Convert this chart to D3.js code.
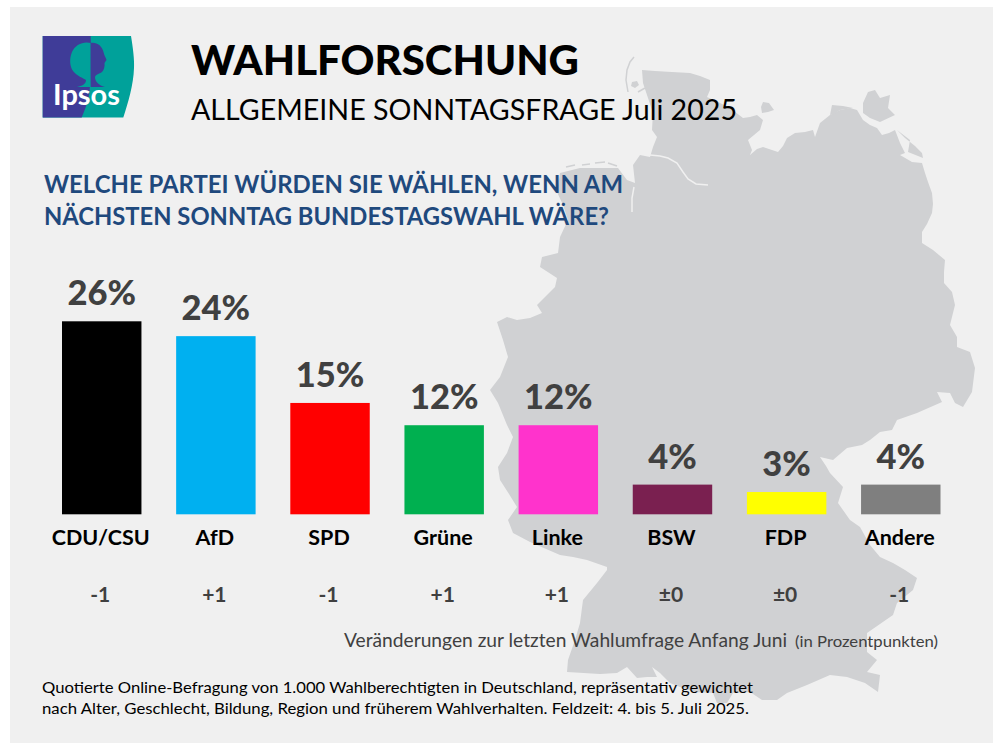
<!DOCTYPE html>
<html>
<head>
<meta charset="utf-8">
<script src="https://cdn.jsdelivr.net/npm/d3@7"></script>
<style>
html, body { margin: 0; padding: 0; background: #fff; }
svg { display: block; }
text { font-family: Lato, "Open Sans", sans-serif; }
</style>
</head>
<body>
<div id="contents"></div>
<script>
var parties = ["CDU/CSU", "AfD", "SPD", "Grüne", "Linke", "BSW", "FDP", "Andere"];
var shares = [26, 24, 15, 12, 12, 4, 3, 4];
var changes = ["-1", "+1", "-1", "+1", "+1", "±0", "±0", "-1"];
var partyColors = ["#000000", "#00b0f0", "#ff0000", "#00b050", "#ff33cc", "#7a2050", "#ffff00", "#7f7f7f"];

// background map of Germany, traced by hand in page pixels
var mapOutline = [[642,70],[655,71],[672,72],[690,73],[700,76],[710,80],[710,90],[707,97],[718,102],[730,108],[743,118],[750,117],[757,115],[763,120],[760,130],[748,140],[752,150],[750,155],[757,149],[763,147],[772,150],[778,152],[783,146],[787,138],[795,133],[805,132],[813,130],[815,137],[820,123],[830,115],[840,110],[850,108],[857,110],[863,120],[870,125],[877,128],[882,135],[889,133],[895,130],[900,143],[905,153],[900,155],[912,162],[922,163],[925,173],[928,182],[932,193],[933,204],[932,213],[927,224],[922,232],[922,243],[933,250],[945,260],[944,272],[944,283],[952,292],[955,305],[950,325],[957,337],[957,347],[970,352],[975,368],[972,392],[963,407],[955,403],[950,393],[937,392],[942,402],[917,413],[897,420],[892,430],[880,432],[870,440],[862,445],[847,448],[833,460],[820,457],[826,466],[830,473],[843,487],[838,503],[850,520],[860,527],[870,545],[880,557],[893,563],[905,570],[917,578],[913,590],[897,603],[893,615],[880,624],[867,633],[867,652],[877,660],[867,672],[880,675],[878,692],[865,683],[847,677],[830,675],[807,685],[787,693],[777,700],[762,700],[750,692],[733,693],[727,703],[717,703],[713,693],[695,692],[680,687],[670,683],[660,673],[652,667],[657,677],[647,677],[637,678],[627,667],[617,673],[600,674],[567,672],[568,660],[575,640],[580,623],[583,600],[597,583],[607,570],[607,567],[587,560],[573,557],[560,555],[530,542],[513,533],[508,520],[517,507],[509,494],[500,480],[498,467],[507,453],[513,437],[507,425],[498,403],[490,390],[500,377],[508,357],[503,340],[497,322],[507,317],[517,320],[530,318],[542,313],[537,305],[555,287],[557,278],[540,267],[542,257],[558,253],[560,237],[568,220],[563,205],[557,192],[560,173],[580,168],[600,168],[618,168],[627,180],[635,183],[633,165],[640,155],[650,157],[653,147],[657,137],[652,130],[653,113],[648,98],[643,83]];
var mapIslands = [
  [[763,102],[769,103],[774,110],[768,112],[762,113],[761,107]],
  [[863,103],[868,92],[875,90],[880,98],[890,95],[888,108],[895,115],[880,122],[870,118],[863,113]],
  [[897,130],[905,138],[915,146],[922,153],[923,158],[908,152],[910,140]],
  [[632,82],[637,81],[639,85],[635,88],[631,86]],
  [[832,105],[843,106],[853,108],[840,110],[834,114],[830,115]]
];
var mapSandbars = [
  [[634,57],[630,62],[627,70],[626,80],[628,92]],
  [[638,92],[645,88]],
  [[566,167],[575,165]],[[582,165],[590,164]],[[595,163],[605,162]],[[608,163],[617,166]]
];
var mapRivers = [
  [[650,155],[660,156],[668,158],[677,163],[683,172],[688,179],[696,184],[708,185]],
  [[634,187],[632,198],[632,212]]
];

var width = 1000, height = 750;

var canvas = d3.select("#contents")
  .append("svg")
  .attr("width", width)
  .attr("height", height);

canvas.append("rect")
  .attr("x", 10).attr("y", 7)
  .attr("width", 983).attr("height", 736)
  .attr("fill", "#f0f0f0");

// map
var mapLine = d3.line();
var map = canvas.append("g");
map.append("path")
  .attr("d", mapLine(mapOutline) + "Z")
  .attr("fill", "#d0d1d3");
map.selectAll(".island")
  .data(mapIslands)
  .enter()
  .append("path")
  .attr("class", "island")
  .attr("d", function(d){ return mapLine(d) + "Z"; })
  .attr("fill", "#d0d1d3");
map.selectAll(".sandbar")
  .data(mapSandbars)
  .enter()
  .append("path")
  .attr("class", "sandbar")
  .attr("d", mapLine)
  .attr("fill", "none")
  .attr("stroke", "#d0d1d3")
  .attr("stroke-width", 1.5);
map.selectAll(".river")
  .data(mapRivers)
  .enter()
  .append("path")
  .attr("class", "river")
  .attr("d", mapLine)
  .attr("fill", "none")
  .attr("stroke", "#f0f0f0")
  .attr("stroke-width", 1.5);

// logo
var logo = canvas.append("g");
logo.append("path")
  .attr("d", "M42.7,36H131C133,48 134.5,60 134,68C133.5,85 128,103 123.3,117.5H42.7Z")
  .attr("fill", "#00a19a");
logo.append("path")
  .attr("d", "M42.7,36H90.7C91,60 91,85 89,95C87,105 84,112 81.7,117.5H42.7Z")
  .attr("fill", "#3f3c98");
logo.append("path")
  .attr("d", "M90.7,43C83,41 75,45 72,52C69,59 70,67 73,71C77,76 83,78 86,80C86,84 82,86 77,87H90.7Z")
  .attr("fill", "#00a19a");
logo.append("path")
  .attr("d", "M90.7,43C97,42 102,46 103.5,52C104,55 106,58 106.5,60C106,61 105,62 104.5,63C105,66 104,70 102,72C99,74 96,74 95,77C95,81 98,85 105,87H90.7Z")
  .attr("fill", "#3f3c98");
logo.append("text")
  .attr("x", 53).attr("y", 105)
  .attr("textLength", 67)
  .attr("lengthAdjust", "spacingAndGlyphs")
  .attr("font-size", 29)
  .attr("font-weight", 700)
  .attr("fill", "#ffffff")
  .text("Ipsos");

// headings
function heading(str, x, y, size, weight, color, len){
  var t = canvas.append("text")
    .attr("x", x).attr("y", y)
    .attr("font-size", size)
    .attr("font-weight", weight)
    .attr("fill", color)
    .text(str);
  if(len){
    t.attr("textLength", len).attr("lengthAdjust", "spacingAndGlyphs");
  }
  return t;
}
heading("WAHLFORSCHUNG", 191, 75, 42.5, 900, "#000000", 388);
heading("ALLGEMEINE SONNTAGSFRAGE Juli 2025", 191, 119.5, 29, 400, "#000000", 546);
heading("WELCHE PARTEI WÜRDEN SIE WÄHLEN, WENN AM", 44, 192.5, 25, 700, "#1f497d", 579);
heading("NÄCHSTEN SONNTAG BUNDESTAGSWAHL WÄRE?", 44, 225, 25, 700, "#1f497d", 565);

// bars
var x = d3.scaleBand()
  .domain(parties)
  .range([62, 940.5])
  .paddingInner(0.304)
  .paddingOuter(0);
var y = d3.scaleLinear()
  .domain([0, 26])
  .range([514.3, 321.3]);

var rows = parties.map(function(p, i){
  return { party: p, share: shares[i], change: changes[i], color: partyColors[i] };
});

var chart = canvas.selectAll(".bar")
  .data(rows)
  .enter()
  .append("g")
  .attr("class", "bar");

chart.append("rect")
  .attr("x", function(d){ return x(d.party); })
  .attr("y", function(d){ return y(d.share); })
  .attr("width", x.bandwidth())
  .attr("height", function(d){ return y(0) - y(d.share); })
  .attr("fill", function(d){ return d.color; });

chart.append("text")
  .attr("x", function(d){ return x(d.party) + x.bandwidth() / 2; })
  .attr("y", function(d){ return y(d.share) - 16; })
  .attr("text-anchor", "middle")
  .attr("font-size", 34.5)
  .attr("font-weight", 900)
  .attr("fill", "#404040")
  .text(function(d){ return d.share + "%"; });

var axis = canvas.append("g")
  .attr("transform", "translate(-1,514.3)")
  .call(d3.axisBottom(x).tickSize(0).tickPadding(15));
axis.select(".domain").remove();
axis.selectAll("text")
  .attr("font-size", 21.5)
  .attr("font-weight", 700)
  .attr("fill", "#000000")
  .style("font-family", "Lato");

chart.append("text")
  .attr("x", function(d){ return x(d.party) + x.bandwidth() / 2 - 1.5; })
  .attr("y", 601.7)
  .attr("text-anchor", "middle")
  .attr("font-size", 21)
  .attr("font-weight", 700)
  .attr("fill", "#404040")
  .text(function(d){ return d.change; });

// notes
heading("Veränderungen zur letzten Wahlumfrage Anfang Juni", 344, 647, 19, 400, "#404040", 443);
heading("(in Prozentpunkten)", 795, 647, 15, 400, "#404040", 143);
heading("Quotierte Online-Befragung von 1.000 Wahlberechtigten in Deutschland, repräsentativ gewichtet", 42, 693.3, 16, 400, "#000000", 711);
heading("nach Alter, Geschlecht, Bildung, Region und früherem Wahlverhalten. Feldzeit: 4. bis 5. Juli 2025.", 42, 714.3, 16, 400, "#000000", 707);
</script>
</body>
</html>
